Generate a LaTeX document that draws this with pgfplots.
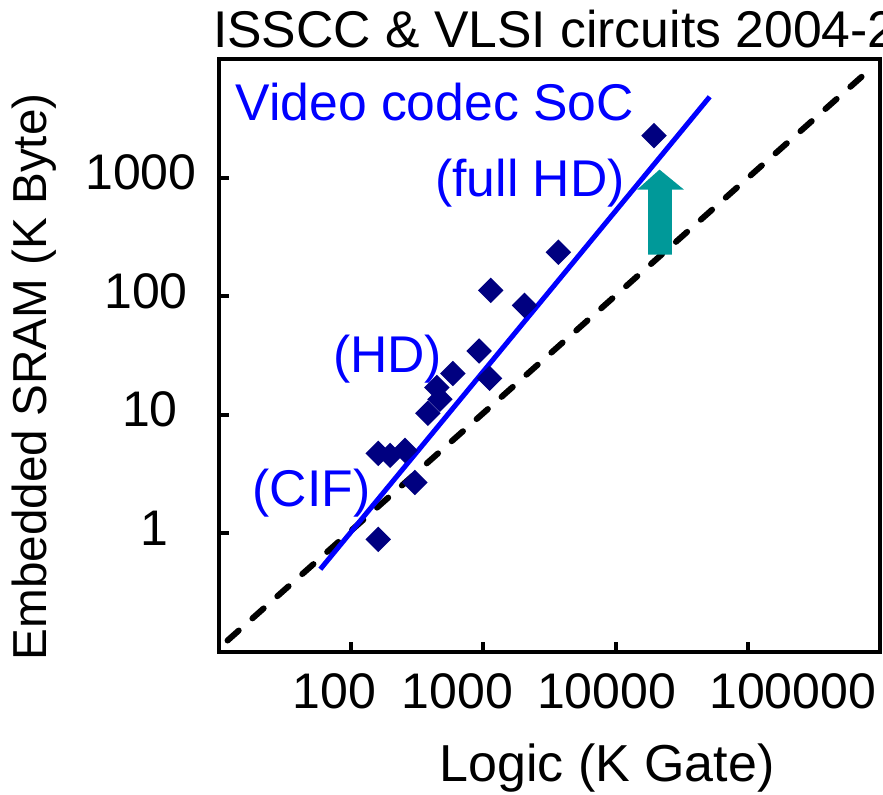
\documentclass[border=0pt]{standalone}
\usepackage{pgfplots}
\pgfplotsset{compat=1.18}
\usepackage{fontspec}
\setmainfont{Liberation Sans}
\definecolor{navyblue}{RGB}{0,0,128}
\definecolor{arrowteal}{RGB}{0,153,153}
\begin{document}
\begin{tikzpicture}[font=\fontsize{15}{18}\selectfont]
\begin{axis}[
  at={(0pt,0pt)}, anchor=south west,
  scale only axis, width=198.3pt, height=177.9pt,
  xmode=log, ymode=log,
  xmin=10, xmax=1e6, ymin=0.1, ymax=1e4,
  xminorticks=false, yminorticks=false,
  xtick={100,1000,10000,100000},
  xticklabels={\hspace*{-10.2pt}100,\hspace*{-15.6pt}1000,\hspace*{-5.4pt}10000,\hspace*{27pt}100000},
  ytick={1,10,100,1000},
  yticklabels={\hspace*{4.2pt}1,\hspace*{1.8pt}10,\hspace*{-0.6pt}100,\hspace*{-3.6pt}1000},
  xtick pos=bottom, ytick pos=left,
  tick align=inside, major tick length=3pt,
  every tick/.style={black, line width=1.2pt},
  axis line style={line width=1.2pt},
  /pgf/number format/assume math mode=true,
  xticklabel style={anchor=center, yshift=-11.7pt, inner sep=0pt},
  yticklabel style={anchor=center, xshift=-21.6pt, yshift=1.6pt, inner sep=0pt},
  xlabel={Logic (K Gate)},
  xlabel style={at={(axis description cs:0.587,-0.219)}, anchor=base, inner sep=0pt, font=\fontsize{15.6}{18}\selectfont},
  ylabel={Embedded SRAM (K Byte)},
  ylabel style={at={(axis description cs:-0.28,0.464)}, anchor=center, inner sep=0pt, font=\fontsize{14.3}{17}\selectfont},
  title={ISSCC \& VLSI circuits 2004-2010},
  title style={at={(axis description cs:-0.010,1.0202)}, anchor=base west, inner sep=0pt, yshift=-6pt, font=\fontsize{15.5}{18}\selectfont},
]
% trend lines
\addplot[black, line width=1.8pt, dash pattern=on 4.5pt off 5.5pt, line cap=round]
  coordinates {(11.6,0.125) (790000,7700)};
\addplot[blue, line width=1.5pt]
  coordinates {(58.4,0.499) (51500,4800)};
% arrow
\fill[arrowteal] (axis cs:17620,224) -- (axis cs:17620,792) -- (axis cs:14550,792)
  -- (axis cs:21480,1168) -- (axis cs:32880,792) -- (axis cs:26680,792)
  -- (axis cs:26680,224) -- cycle;
% data
\addplot[only marks, mark=square*, mark size=2.5pt, color=navyblue, mark options={rotate=45}]
  coordinates {
  (19540,2260) (3690,235) (1135,112) (2046,83.6) (929,34.5)
  (1114,20.3) (587,22.3) (445,17.0) (469,13.5) (380,10.3)
  (160,4.73) (197,4.55) (255,5.01) (303,2.69) (160,0.891)
  };
\end{axis}
\begin{scope}[font=\fontsize{15.5}{18}\selectfont]
\node[blue, anchor=base west, inner sep=0pt] at (4.8pt,159.3pt) {Video codec SoC};
\node[blue, anchor=base, inner sep=0pt] at (93.3pt,136.5pt) {(full HD)};
\node[blue, anchor=base, inner sep=0pt] at (50.6pt,83.7pt) {(HD)};
\node[blue, anchor=base, inner sep=0pt] at (27.75pt,43.5pt) {(CIF)};
\end{scope}
\pgfresetboundingbox
\useasboundingbox (-65.7pt,-42.6pt) rectangle (199.2pt,195.6pt);
\end{tikzpicture}
\end{document}
